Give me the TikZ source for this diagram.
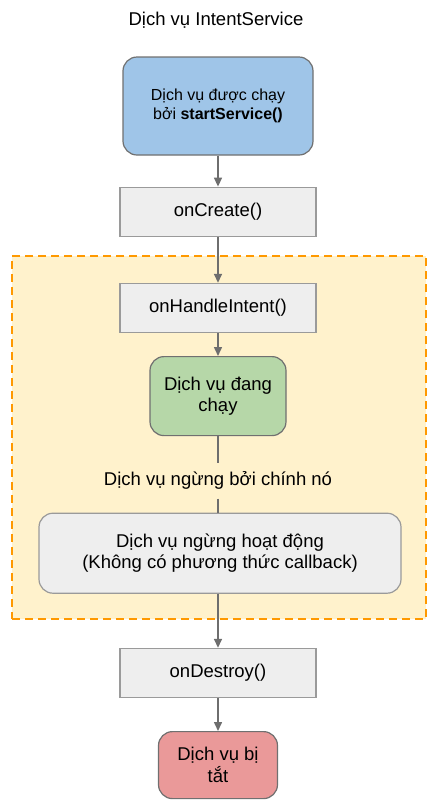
\documentclass[tikz,border=0pt]{standalone}
\usepackage{fontspec}
\setmainfont{Liberation Sans}
\usepackage{tikz}
\usetikzlibrary{positioning, arrows.meta}
\definecolor{svcblue}{HTML}{9FC5E8}
\definecolor{svcgreen}{HTML}{B6D7A8}
\definecolor{svcred}{HTML}{EA9999}
\definecolor{callgray}{HTML}{EEEEEE}
\definecolor{loopfill}{HTML}{FFF2CC}
\definecolor{loopline}{HTML}{FF9900}
\definecolor{boxline}{HTML}{9A9A9A}
\definecolor{phaseline}{HTML}{707070}
\definecolor{arrgray}{HTML}{6E6E6E}

\begin{document}
\begin{tikzpicture}[
  x=1pt, y=1pt,
  box/.style={draw=boxline, line width=1.2pt, align=center, inner sep=2pt, font=\fontsize{18.5}{21.5}\selectfont},
  callbox/.style={box, fill=callgray, minimum width=196pt, minimum height=49pt},
  phase/.style={box, rounded corners=14pt, draw=phaseline},
  loop/.style={draw=loopline, fill=loopfill, line width=1.5pt, dash pattern=on 8pt off 5pt, minimum width=414pt, minimum height=363pt},
  arr/.style={-{Triangle[length=9pt, width=8pt]}, line width=1.5pt, color=arrgray},
  link/.style={line width=1.5pt, color=arrgray}
]
\useasboundingbox (0,0) rectangle (439,-812);

\node[loop] (handler) at (219,-437.5) {};

\node[font=\fontsize{18.5}{21.5}\selectfont] (title) at (216,-20) {Dịch vụ IntentService};

\node[phase, fill=svcblue, minimum width=190pt, minimum height=98pt, font=\fontsize{16}{18.5}\selectfont] (started) at (218,-106) {Dịch vụ được chạy\\bởi \textbf{startService()}};
\node[callbox, below=31pt of started] (create) {onCreate()};
\node[callbox, below=46pt of create] (handle) {onHandleIntent()};
\node[phase, fill=svcgreen, minimum width=136pt, minimum height=79pt, below=23pt of handle] (running) {Dịch vụ đang\\chạy};
\node[font=\fontsize{18.5}{21.5}\selectfont, minimum height=35pt, inner sep=0pt, below=27pt of running] (stoplbl) {Dịch vụ ngừng bởi chính nó};
\node[phase, fill=callgray, draw=boxline, minimum width=362pt, minimum height=80pt, below=14pt of stoplbl, xshift=2pt] (stopped) {Dịch vụ ngừng hoạt động\\(Không có phương thức callback)};
\node[callbox, below=54pt of stopped, xshift=-2pt] (destroy) {onDestroy()};
\node[phase, fill=svcred, minimum width=119pt, minimum height=67pt, below=33pt of destroy] (killed) {Dịch vụ bị\\tắt};

\draw[arr] (started) -- (create);
\draw[arr] (create) -- (handle);
\draw[arr] (handle) -- (running);
\draw[link] (running) -- (stoplbl) -- (stopped.north -| stoplbl);
\draw[arr] (stopped.south -| destroy) -- (destroy);
\draw[arr] (destroy) -- (killed);

\end{tikzpicture}
\end{document}
